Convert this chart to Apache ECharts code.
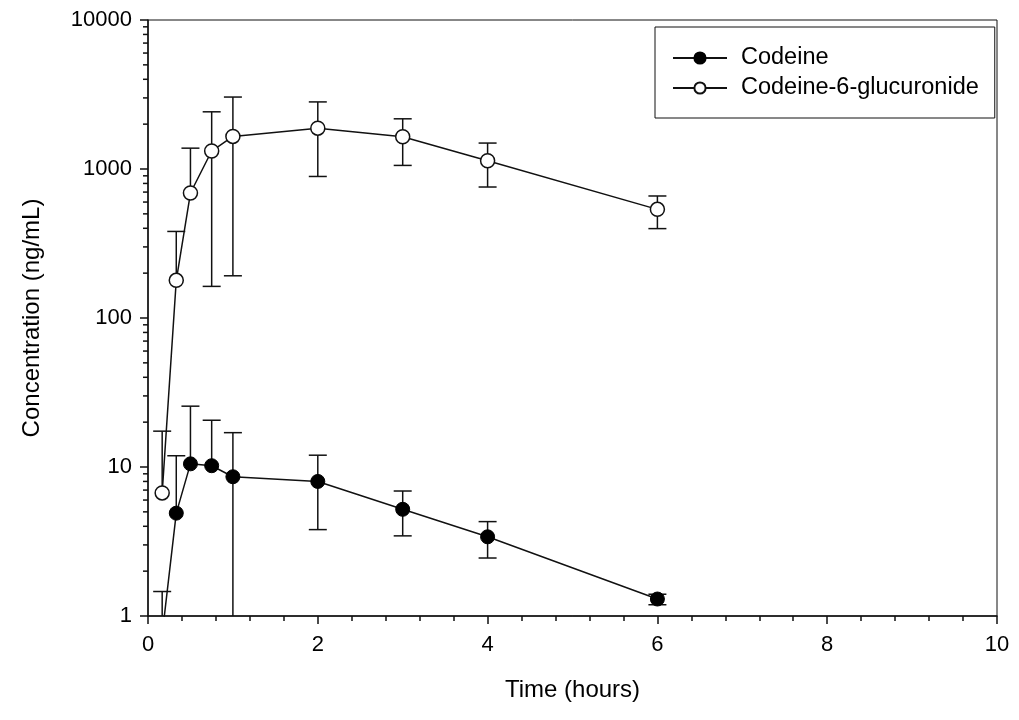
<!DOCTYPE html>
<html>
<head>
<meta charset="utf-8">
<script src="https://cdn.jsdelivr.net/npm/echarts@6/dist/echarts.min.js"></script>
<style>
html,body{margin:0;padding:0;background:#fff;}
#main{width:1019px;height:720px;}
</style>
</head>
<body>
<div id="main"></div>
<script>
// ---- data ----
var times = [0.167, 0.333, 0.5, 0.75, 1, 2, 3, 4, 6];
var codeine = [0.75, 4.9, 10.5, 10.2, 8.6, 8.0, 5.2, 3.4, 1.3];
var codeineUpper = [1.46, 11.9, 25.6, 20.6, 17.0, 12.0, 6.9, 4.3, 1.40];
var codeineLower = [null, null, null, null, 0.1, 3.8, 3.45, 2.45, 1.19];
var gluc = [6.7, 179, 690, 1320, 1655, 1880, 1645, 1136, 536];
var glucUpper = [17.4, 381, 1380, 2420, 3040, 2820, 2172, 1493, 659];
var glucLower = [null, null, null, 163, 192, 891, 1057, 757, 398];
var yTickLabels = [1, 10, 100, 1000, 10000];
var yMinorTicks = [2,3,4,5,6,7,8,9,20,30,40,50,60,70,80,90,200,300,400,500,600,700,800,900,2000,3000,4000,5000,6000,7000,8000,9000];
var seriesNames = ['Codeine', 'Codeine-6-glucuronide'];

var FONT = 'Liberation Sans, Arial, sans-serif';
var INK = '#111';

function pairs(xs, ys) { return xs.map(function (x, i) { return [x, ys[i]]; }); }

function errorBarSeries(means, uppers, lowers) {
  return {
    type: 'custom',
    clip: true,
    z: 1,
    silent: true,
    data: pairs(times, means),
    renderItem: function (params, api) {
      var i = params.dataIndex;
      var x = times[i];
      var top = api.coord([x, uppers[i]]);
      var mid = api.coord([x, means[i]]);
      var hasLow = lowers[i] !== null;
      var bot = hasLow ? api.coord([x, lowers[i]]) : mid;
      var hw = 9;
      var st = { stroke: INK, lineWidth: 1.5, fill: null };
      var children = [
        { type: 'line', shape: { x1: top[0], y1: top[1], x2: bot[0], y2: bot[1] }, style: st },
        { type: 'line', shape: { x1: top[0] - hw, y1: top[1], x2: top[0] + hw, y2: top[1] }, style: st }
      ];
      if (hasLow) {
        children.push({ type: 'line', shape: { x1: bot[0] - hw, y1: bot[1], x2: bot[0] + hw, y2: bot[1] }, style: st });
      }
      return { type: 'group', children: children };
    }
  };
}

var chart = echarts.init(document.getElementById('main'), null, { renderer: 'canvas' });
chart.setOption({
  animation: false,
  backgroundColor: '#fff',
  textStyle: { fontFamily: FONT },
  grid: { left: 148, right: 22, top: 20, bottom: 104, show: true, borderColor: INK, borderWidth: 1, backgroundColor: 'transparent' },
  legend: {
    orient: 'vertical',
    left: 655,
    top: 27,
    padding: [19, 16, 18, 17],
    itemWidth: 54,
    itemHeight: 14,
    itemGap: 6,
    backgroundColor: '#fff',
    borderColor: INK,
    borderWidth: 1,
    borderRadius: 0,
    textStyle: { fontFamily: FONT, fontSize: 23.5, color: '#000', padding: [0, 0, 0, 9] },
    data: seriesNames
  },
  xAxis: {
    type: 'value',
    min: 0, max: 10, interval: 2,
    name: 'Time (hours)',
    nameLocation: 'middle',
    nameGap: 62,
    nameTextStyle: { fontFamily: FONT, fontSize: 24, color: '#000' },
    axisLine: { show: true, onZero: false, lineStyle: { color: INK, width: 1.5 } },
    axisTick: { show: true, length: 8, lineStyle: { color: INK, width: 1.5 } },
    minorTick: { show: true, splitNumber: 5, length: 5, lineStyle: { color: INK, width: 1.5 } },
    axisLabel: { fontFamily: FONT, fontSize: 22, color: '#000', margin: 18 },
    splitLine: { show: false },
    minorSplitLine: { show: false }
  },
  yAxis: {
    type: 'log',
    logBase: 10,
    min: 1, max: 10000,
    name: 'Concentration (ng/mL)',
    nameLocation: 'middle',
    nameGap: 104,
    nameTextStyle: { fontFamily: FONT, fontSize: 24, color: '#000' },
    axisLine: { show: true, onZero: false, lineStyle: { color: INK, width: 1.5 } },
    axisTick: { show: true, length: 8, lineStyle: { color: INK, width: 1.5 } },
    axisLabel: {
      fontFamily: FONT, fontSize: 22, color: '#000', margin: 16,
      formatter: function (v) { return yTickLabels.indexOf(Math.round(v)) >= 0 ? String(Math.round(v)) : ''; }
    },
    splitLine: { show: false }
  },
  series: [
    {
      type: 'custom',
      clip: false,
      silent: true,
      z: 0,
      data: yMinorTicks.map(function (v) { return [0, v]; }),
      renderItem: function (params, api) {
        var p = api.coord([0, yMinorTicks[params.dataIndex]]);
        return { type: 'line', shape: { x1: p[0] - 5, y1: p[1], x2: p[0], y2: p[1] }, style: { stroke: INK, lineWidth: 1.5 } };
      }
    },
    errorBarSeries(codeine, codeineUpper, codeineLower),
    errorBarSeries(gluc, glucUpper, glucLower),
    {
      name: seriesNames[0],
      type: 'line',
      clip: true,
      z: 3,
      data: pairs(times, codeine),
      symbol: 'circle',
      symbolSize: 14,
      showAllSymbol: true,
      lineStyle: { color: INK, width: 1.5 },
      itemStyle: { color: '#000', borderColor: '#000', borderWidth: 1 }
    },
    {
      name: seriesNames[1],
      type: 'line',
      clip: true,
      z: 3,
      data: pairs(times, gluc),
      symbol: 'circle',
      symbolSize: 14,
      showAllSymbol: true,
      lineStyle: { color: INK, width: 1.5 },
      itemStyle: { color: '#fff', borderColor: INK, borderWidth: 1.5 }
    }
  ]
});
</script>
</body>
</html>
